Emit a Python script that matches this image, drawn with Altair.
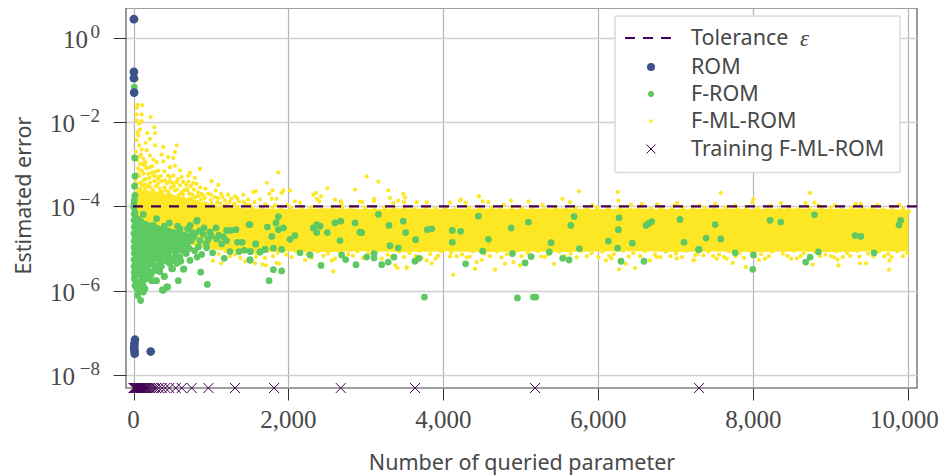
import altair as alt
import pandas as pd

# x = number of queried parameter, e = log10(estimated error)
rom_pts = [(5,0.44),(5,-0.81),(5,-0.96),(8,-1.30),(19,-7.16),(12,-7.25),(10,-7.32),(8,-7.37),(13,-7.43),(15,-7.49),(222,-7.44)]

from_isolated = [(10,-1.17),(14,-2.85),(18,-3.28),(14,-3.52),(18,-3.74),(9,-3.85),(5,-3.95),
    (815,-4.35),(708,-4.53),(910,-4.51),(987,-4.61),(1064,-4.51),(1202,-4.57),(1254,-4.57),(1322,-4.55),(1490,-4.43),(794,-4.65),(858,-4.81),(966,-4.77),(1073,-4.77),(1138,-4.89),(1202,-4.81),(1340,-4.85),(1404,-4.85),(1576,-4.89),(750,-4.81),(837,-4.96),(880,-5.14),(944,-4.98),(1021,-5.10),(1172,-5.23),(1245,-5.07),(1361,-5.07),(1430,-5.04),(1512,-5.07),(1632,-5.08),(1697,-5.02),(1503,-5.27),(729,-5.28),(643,-5.49),(867,-5.56),(953,-5.85),(578,-5.76),(385,-5.99),(441,-5.91),(505,-5.48),(398,-5.66),(278,-5.76),
    (823,-4.33),(698,-4.53),(600,-4.53),(660,-4.70),(620,-4.85),(690,-4.92),(640,-5.05),(600,-5.20),(651,-5.48),(760,-4.62),(680,-5.12),
    (730,-4.45),(780,-4.72),(850,-4.58),(900,-4.66),(940,-4.88),(1000,-4.70),(1100,-4.68),(1160,-4.72),(720,-5.00),(790,-5.05),(820,-5.20),(560,-5.35),(610,-5.30)]

from_blob = [(5,-4.02),(8,-4.18),(7,-4.33),(10,-4.49),(6,-4.64),(9,-4.82),(7,-4.97),(10,-5.11),(6,-5.26),(8,-5.42),(10,-5.56),(10,-5.72),
    (19,-4.14),(34,-4.27),(26,-4.44),(37,-4.60),(22,-4.76),(36,-4.93),(25,-5.07),(38,-5.23),(24,-5.36),(35,-5.52),(19,-5.65),(19,-5.88),(36,-5.79),
    (53,-6.11),(92,-6.23),(127,-6.03),(84,-5.91),(148,-5.95),(105,-5.76),(60,-5.98),(234,-5.76),(298,-5.76),(372,-5.98),(428,-5.91),(397,-5.66),(277,-5.52),(492,-5.48),(470,-5.36),
    (127,-4.19),(62,-4.31),(75,-4.48),(58,-4.66),(79,-4.81),(62,-4.99),(70,-5.15),(56,-5.31),(81,-5.44),(66,-5.61),
    (98,-4.36),(118,-4.54),(95,-4.70),(112,-4.86),(96,-5.03),(120,-5.18),(101,-5.34),(115,-5.50),(90,-5.62),(135,-5.66),
    (151,-4.42),(140,-4.63),(165,-4.78),(148,-4.94),(168,-5.10),(142,-5.26),(160,-5.41),(172,-5.60),
    (190,-4.58),(205,-4.74),(186,-4.88),(210,-5.05),(192,-5.21),(206,-5.37),(196,-5.52),
    (256,-4.45),(298,-4.29),(245,-4.62),(268,-4.79),(238,-4.96),(262,-5.12),(244,-5.28),(272,-5.41),(228,-5.60),
    (322,-4.55),(340,-4.70),(310,-4.86),(345,-5.02),(318,-5.17),(338,-5.31),(312,-5.45),
    (397,-4.47),(380,-4.66),(405,-4.82),(384,-4.98),(410,-5.14),(388,-5.28),
    (462,-4.39),(448,-4.58),(470,-4.74),(440,-4.90),(476,-5.04),(452,-5.19),
    (569,-4.47),(510,-4.62),(545,-4.78),(520,-4.95),(552,-5.10),(515,-5.28),(575,-4.92),
    (590,-5.02),(530,-5.20),(360,-5.42),(340,-5.55),(445,-5.32),(160,-5.72),(200,-5.66),(120,-5.85),(70,-6.02),(45,-5.95)]

from_far = [(1504,-4.43),(1728,-4.49),(1870,-4.24),(1839,-4.39),(1870,-4.55),(1934,-4.51),(1784,-4.71),(1577,-4.89),(1504,-5.07),(1633,-5.08),(1698,-5.02),(1805,-4.99),(1912,-5.02),(2020,-4.78),(2084,-4.69),(2149,-5.10),(2278,-5.15),(2321,-4.51),(2364,-4.62),(2364,-4.43),(2407,-4.47),(2502,-4.62),(2600,-4.39),(2674,-4.35),(2665,-4.81),(2686,-5.15),(2738,-5.26),(2859,-4.39),(2923,-4.61),(2945,-4.62),(3009,-5.20),(3104,-5.12),(3104,-5.22),(3160,-4.19),(3203,-5.38),(3288,-5.32),(3297,-4.45),(3310,-4.93),(3362,-5.20),(3417,-4.98),(3482,-4.35),(3512,-4.62),(3641,-4.79),(3632,-5.30),(3684,-5.23),(3792,-4.55),(3848,-4.53),(4114,-4.57),(4114,-4.85),(4222,-4.59),(4286,-5.36),(4450,-4.23),(1504,-5.27),(1805,-5.50),(1912,-5.53),(1749,-5.76),(2420,-5.40),(2871,-5.38),
    (3755,-6.15),(4581,-4.78),(4507,-5.06),(4873,-4.51),(4890,-5.12),(4955,-6.17),(5054,-5.34),(5131,-5.19),(5097,-4.37),(5161,-6.15),(5191,-6.15),(5389,-4.86),(5367,-5.08),(5539,-5.23),(5621,-5.27),(5643,-4.45),(5686,-4.24),(5754,-5.00),(6129,-4.82),(6249,-4.99),(6258,-4.55),(6266,-4.27),(6292,-5.30),(6438,-4.87),(6589,-5.30),(6614,-4.45),(6645,-4.41),(6688,-4.36),(7053,-4.31),(7105,-4.85),(7290,-5.02),
    (7507,-4.43),(7390,-4.75),(7580,-4.77),(7300,-5.02),(7765,-5.10),(8001,-5.15),(7992,-5.49),(8216,-4.33),(8354,-4.37),(8788,-4.20),(8840,-5.08),(8732,-5.20),(8676,-5.32),(9313,-4.69),(9386,-4.71),(9558,-5.10),(9902,-4.33),(9880,-4.44)]

fml_fan = [(41,0.43),(45,-0.99),(53,-1.59),(114,-1.60),(40,-1.66),(105,-1.82),(40,-1.82),(221,-1.88),(40,-1.96),(105,-1.98),(71,-2.04),(268,-2.12),(84,-2.17),(53,-2.24),(178,-2.26),(277,-2.26),(62,-2.32),(212,-2.40),(40,-2.43),(157,-2.49),(71,-2.55),(277,-2.55),(385,-2.59),(556,-2.55),(105,-2.65),(170,-2.67),(535,-2.71),(363,-2.77),(449,-2.83),(514,-2.85),(212,-2.79),(256,-2.89),(298,-2.95),(385,-2.93),(127,-2.87),(84,-2.99),(148,-3.03),(212,-3.07),(471,-3.07),(535,-3.03),(858,-3.11),(600,-3.15),(320,-3.15),(397,-3.17),(105,-3.15),(191,-3.23),(256,-3.27),(449,-3.27),(514,-3.27),(729,-3.20),(707,-3.27),(621,-3.30),(793,-3.32),(1008,-3.40),(707,-3.41),(815,-3.46),(1094,-3.49),(406,-3.38),(127,-3.38),(212,-3.44),(320,-3.46),(492,-3.44),(600,-3.50),(685,-3.58),(84,-3.58),(148,-3.58),(256,-3.62),(363,-3.66),(449,-3.66),(535,-3.62),(879,-3.70),(965,-3.70),(1417,-3.72),(1309,-3.76),(1546,-3.66),(1051,-3.78),(1180,-3.86),(600,-3.82),(750,-3.82),
    (60,-3.10),(160,-3.35),(300,-3.30),(430,-3.45),(560,-3.42),(650,-3.62),(780,-3.60),(840,-3.75),(920,-3.80),(1000,-3.85),(1120,-3.92),(1240,-3.90),(1360,-3.88),(1450,-3.95),
    (30,-2.70),(95,-2.78),(150,-2.95),(240,-3.05),(280,-3.18),(350,-3.28),(470,-3.30),(55,-3.22),(110,-3.50),(190,-3.52),(270,-3.40),(400,-3.55),(520,-3.52),(620,-3.66),(720,-3.70),(800,-3.78),(30,-3.35),(60,-3.60),(170,-3.70),(300,-3.72),(430,-3.78),(560,-3.78),(680,-3.88),(840,-3.90),(950,-3.95)]

fml_dense = [(48,-2.90),(70,-2.82),(118,-3.00),(170,-3.10),(75,-3.28),(130,-3.22),(205,-3.32),(240,-3.20),(320,-3.35),(365,-3.40),(470,-3.40),(510,-3.45),(570,-3.36),(640,-3.42),(680,-3.48),(740,-3.52),(770,-3.45),(860,-3.55),(930,-3.58),(1060,-3.62),(1130,-3.70),(1220,-3.72),
    (45,-3.46),(90,-3.44),(150,-3.48),(220,-3.55),(290,-3.52),(340,-3.58),(410,-3.62),(480,-3.56),(560,-3.60),(640,-3.72),(700,-3.62),(760,-3.72),(830,-3.66),(900,-3.74),(1000,-3.72),(1090,-3.80),(1150,-3.78),(1260,-3.82),(1340,-3.80),(1480,-3.84),
    (40,-3.70),(100,-3.66),(130,-3.76),(210,-3.68),(245,-3.78),(330,-3.68),(380,-3.76),(470,-3.72),(510,-3.82),(590,-3.72),(650,-3.82),(720,-3.82),(790,-3.88),(870,-3.84),(920,-3.92),(1010,-3.94),(1080,-3.90),(1200,-3.96),(1300,-3.94),(1420,-3.90),
    (45,-3.84),(90,-3.80),(140,-3.88),(200,-3.82),(270,-3.88),(340,-3.84),(400,-3.90),(470,-3.88),(540,-3.92),(620,-3.90),(760,-3.94),(890,-3.98),(1060,-4.00),(1160,-3.99),(1340,-4.00),(1500,-3.97),(1560,-3.90),(1700,-3.95),(1830,-3.97),(1990,-3.96)]

fml_upper = [(1870,-3.19),(3009,-3.29),(3160,-3.41),(1719,-3.44),(1577,-3.64),(1753,-3.70),(1796,-3.62),(1934,-3.62),(1912,-3.68),(2020,-3.62),(2502,-3.57),(2859,-3.60),(3288,-3.62),(3482,-3.70),(2321,-3.72),(2355,-3.68),(2420,-3.76),(2364,-3.82),(2398,-3.88),(1633,-3.83),(1783,-3.82),(1848,-3.82),(2084,-3.88),(2149,-3.91),(2600,-3.84),(2674,-3.88),(2686,-3.94),(2923,-3.88),(2953,-3.90),(3104,-3.82),(3104,-3.87),(3310,-3.80),(3504,-3.79),(3353,-3.92),(3417,-3.86),(3491,-3.90),(3654,-3.90),(3783,-3.90),(4084,-3.91),(4222,-3.84),(4286,-3.91),(4454,-3.76),
    (4460,-3.76),(4215,-3.86),(4507,-3.88),(4581,-3.90),(4873,-3.86),(5097,-3.88),(5535,-3.82),(5750,-3.64),(6249,-3.66),(6258,-3.86),(5634,-3.90),(7580,-3.68),(8001,-3.83),(7988,-3.91),(8732,-3.68),(8354,-3.92),(8676,-3.92),(8788,-3.91),(7304,-3.98),(7507,-3.94),(7765,-3.98),(8216,-3.98),(9321,-3.94),(9386,-3.94),(9884,-3.96),(8840,-3.98),(6760,-3.95),(7020,-3.92),(6420,-3.96),(5920,-3.97),(5280,-3.96),(4780,-3.97),(6980,-3.98),(6560,-3.94),(9050,-3.97),(9600,-3.96)]

fml_lower = [(1697,-5.22),(1710,-5.40),(1667,-5.38),(1568,-5.35),(1848,-5.34),(1882,-5.36),(2214,-5.27),(2579,-5.54),(2558,-5.28),(2600,-5.24),(3203,-5.24),(3379,-5.40),(3409,-5.46),(3525,-5.44),(3719,-5.22),(3783,-5.28),(3848,-5.35),(3899,-5.24),(4127,-5.62),(4407,-5.48),(4428,-5.32),(4342,-5.19),(4084,-5.19),
    (3527,-5.46),(4409,-5.48),(4667,-5.50),(4495,-5.27),(4796,-5.36),(4903,-5.32),(4989,-5.40),(5260,-5.19),(5428,-5.36),(6098,-5.28),(6171,-5.23),(6266,-5.49),(6352,-5.36),(6473,-5.46),(7010,-5.23),(7225,-5.28),(6666,-5.28),(6752,-5.20),
    (7236,-5.27),(7249,-5.16),(7528,-5.24),(7734,-5.34),(7902,-5.44),(7881,-5.22),(8074,-5.27),(8152,-5.24),(8487,-5.24),(8560,-5.23),(8762,-5.38),(9042,-5.20),(9098,-5.40),(9085,-5.26),(9153,-5.20),(9377,-5.35),(9454,-5.35),(9751,-5.50),(9755,-5.28),(9785,-5.20),(9368,-5.19),(7356,-5.16),(7657,-5.24),
    (1024,-5.29),(1131,-5.35),(1245,-5.18),(1380,-5.22),(1440,-5.30)]

# rough outer rim of the band of F-ML-ROM dots
fml_rim_top = [(1040,-4.02),(1150,-4.06),(1280,-4.03),(1400,-4.07),(1530,-4.03),(1660,-4.06),(1790,-4.02),(1900,-4.07),(2040,-4.03),(2170,-4.06),(2290,-4.02),(2440,-4.07),(2560,-4.04),(2690,-4.02),(2810,-4.06),(2990,-4.03),(3110,-4.07),(3240,-4.02),(3370,-4.05),(3500,-4.03),(3630,-4.07),(3770,-4.02),(3900,-4.05),(4030,-4.03),(4150,-4.07),(4330,-4.02),(4470,-4.06),(4620,-4.03),(4740,-4.07),(4880,-4.02),(5010,-4.05),(5150,-4.03),(5300,-4.06),(5450,-4.02),(5580,-4.07),(5700,-4.03),(5850,-4.05),(5980,-4.02),(6120,-4.06),(6280,-4.03),(6400,-4.07),(6530,-4.02),(6680,-4.05),(6810,-4.03),(6950,-4.07),(7090,-4.02),(7220,-4.05),(7370,-4.03),(7490,-4.07),(7640,-4.02),(7790,-4.06),(7910,-4.03),(8060,-4.05),(8190,-4.02),(8330,-4.07),(8460,-4.03),(8590,-4.06),(8720,-4.02),(8880,-4.05),(9000,-4.03),(9140,-4.07),(9270,-4.02),(9410,-4.05),(9530,-4.03),(9670,-4.07),(9790,-4.03),(9930,-4.05),(10010,-4.12)]
fml_rim_low = [(1020,-5.08),(1100,-5.13),(1190,-5.05),(1310,-5.14),(1450,-5.06),(1590,-5.12),(1740,-5.05),(1860,-5.10),(1970,-5.14),(2100,-5.06),(2240,-5.13),(2380,-5.07),(2510,-5.12),(2640,-5.05),(2770,-5.13),(2890,-5.06),(3030,-5.11),(3150,-5.05),(3280,-5.14),(3430,-5.07),(3560,-5.11),(3700,-5.05),(3830,-5.13),(3970,-5.06),(4100,-5.10),(4240,-5.14),(4380,-5.06),(4530,-5.12),(4690,-5.07),(4820,-5.13),(4950,-5.05),(5090,-5.11),(5220,-5.06),(5350,-5.14),(5490,-5.07),(5640,-5.12),(5780,-5.05),(5910,-5.11),(6050,-5.07),(6200,-5.13),(6320,-5.05),(6450,-5.11),(6600,-5.06),(6730,-5.14),(6870,-5.07),(7000,-5.12),(7140,-5.05),(7280,-5.12),(7420,-5.07),(7560,-5.14),(7690,-5.06),(7820,-5.11),(7960,-5.05),(8100,-5.13),(8240,-5.07),(8380,-5.12),(8520,-5.05),(8650,-5.11),(8790,-5.07),(8930,-5.14),(9070,-5.06),(9210,-5.11),(9340,-5.05),(9480,-5.12),(9620,-5.07),(9740,-5.13),(9860,-5.06),(9990,-5.11)]
fml_rim_low2 = [(1580,-5.20),(1800,-5.18),(2040,-5.20),(2300,-5.22),(2450,-5.17),(2700,-5.20),(2830,-5.17),(2960,-5.22),(3090,-5.18),(3330,-5.19),(3490,-5.20),(3640,-5.18),(3930,-5.17),(4170,-5.18),(4300,-5.21),(4600,-5.18),(4750,-5.21),(5010,-5.18),(5140,-5.21),(5310,-5.20),(5560,-5.18),(5720,-5.21),(5850,-5.18),(6000,-5.20),(6140,-5.17),(6390,-5.19),(6540,-5.18),(6800,-5.20),(6930,-5.18),(7080,-5.20),(7480,-5.18),(7620,-5.20),(7770,-5.18),(8020,-5.19),(8200,-5.18),(8440,-5.17),(8610,-5.18),(8860,-5.18),(9000,-5.18),(9250,-5.17),(9550,-5.19),(9690,-5.18),(9930,-5.18)]

band_x   = [0, 100, 200, 300, 400, 500, 700, 900, 1100, 1300, 1500, 2000, 2500, 3000, 3500, 4000, 4500, 5000, 5500, 6000, 6500, 7000, 7500, 8000, 8500, 9000, 9500, 10000]
band_top = [-3.65,-3.60,-3.62,-3.65,-3.70,-3.72,-3.82,-3.92,-4.00,-4.03,-4.05,-4.06,-4.05,-4.06,-4.05,-4.06,-4.05,-4.06,-4.05,-4.06,-4.05,-4.06,-4.05,-4.06,-4.05,-4.06,-4.05,-4.08]
band_low = [-4.80,-4.80,-4.80,-4.80,-4.80,-4.85,-4.90,-4.98,-5.04,-5.07,-5.08,-5.07,-5.08,-5.06,-5.08,-5.07,-5.08,-5.07,-5.08,-5.07,-5.06,-5.08,-5.07,-5.08,-5.07,-5.08,-5.07,-5.07]

# saturated core of the F-ROM cloud near the origin
core_x   = [3, 60, 130, 250, 400, 530, 660, 760]
core_top = [-4.10,-4.25,-4.35,-4.40,-4.50,-4.55,-4.60,-4.65]
core_low = [-5.90,-5.65,-5.50,-5.35,-5.20,-5.10,-4.95,-4.80]

train_x = [0,8,16,24,32,40,48,56,64,72,80,90,100,110,120,132,145,160,175,190,210,235,262,290,325,365,410,462,545,622,751,966,1310,1814,2675,3634,5183,7300]
train_e = -8.305

tolerance = 1e-4
x_ticks = [0, 2000, 4000, 6000, 8000, 10000]
x_tick_text = ["0", "2,000", "4,000", "6,000", "8,000", "10,000"]
y_exponents = [0, -2, -4, -6, -8]
y_exp_text = ["0", "−2", "−4", "−6", "−8"]

legend_labels = ["Tolerance", "ROM", "F-ROM", "F-ML-ROM", "Training F-ML-ROM"]
VIRIDIS = {"tol": "#440154", "rom": "#3b528b", "from": "#5ec962", "fml": "#fde725"}
INK = "#484848"
SANS = "Noto Sans"
SERIF = "Liberation Serif"

def frame(*lists):
    rows = [p for l in lists for p in l]
    return pd.DataFrame({"x": [r[0] for r in rows], "err": [10.0 ** r[1] for r in rows]})

xs = alt.Scale(domain=[-97, 10112], nice=False, zero=False)
ys = alt.Scale(type="log", domain=[10 ** -8.305, 10 ** 0.705], nice=False)
x_axis = alt.Axis(
    values=x_ticks, labels=False, title="Number of queried parameter", grid=True,
    gridColor="#b4b4b4", gridWidth=1.2, domain=False, tickColor="#333333", tickSize=12, tickWidth=1,
    titleFont=SANS, titleFontSize=21.5, titleFontWeight="normal", titleColor=INK, titlePadding=52)
y_axis = alt.Axis(
    values=[10.0 ** e for e in y_exponents], labels=False, title="Estimated error", grid=True,
    gridColor="#d0d0d0", gridWidth=1.6, domain=False, tickColor="#333333", tickSize=13, tickWidth=1,
    titleFont=SANS, titleFontSize=21.5, titleFontWeight="normal", titleColor=INK, titlePadding=77, titleY=187)
X = alt.X("x:Q", scale=xs, axis=x_axis)
Y = alt.Y("err:Q", scale=ys, axis=y_axis)

def band(xv, top, low, color):
    df = pd.DataFrame({"x": xv, "top": [10.0 ** v for v in top], "low": [10.0 ** v for v in low]})
    return alt.Chart(df).mark_area(color=color, opacity=1).encode(
        x=X, y=alt.Y("top:Q", scale=ys, axis=y_axis), y2="low:Q")

base = band(band_x, band_top, band_low, VIRIDIS["fml"])
core = band(core_x, core_top, core_low, VIRIDIS["from"])

fml = alt.Chart(frame(fml_fan, fml_dense, fml_upper, fml_lower, fml_rim_top, fml_rim_low, fml_rim_low2)).mark_circle(
    color=VIRIDIS["fml"], opacity=1, size=18).encode(x=X, y=Y)
from_ = alt.Chart(frame(from_isolated, from_blob, from_far)).mark_circle(
    color=VIRIDIS["from"], opacity=1, size=46).encode(x=X, y=Y)
rom = alt.Chart(frame(rom_pts)).mark_circle(
    color=VIRIDIS["rom"], opacity=1, size=76).encode(x=X, y=Y)
CROSS = "M-1,-1L1,1M-1,1L1,-1"
train_df = pd.DataFrame({"x": train_x, "err": [10.0 ** train_e] * len(train_x)})
train = alt.Chart(train_df).mark_point(
    shape=CROSS, filled=False, color=VIRIDIS["tol"], opacity=1, size=100, strokeWidth=1, clip=False).encode(x=X, y=Y)
tol = alt.Chart(pd.DataFrame({"err": [tolerance]})).mark_rule(
    color=VIRIDIS["tol"], strokeWidth=2.2, strokeDash=[10, 8]).encode(y=Y)

tick_df = pd.DataFrame({"err": [10.0 ** e for e in y_exponents], "exp": y_exp_text,
                        "base": ["10"] * 5, "neg": [e < 0 for e in y_exponents]})
def ytext(df, col, px, size, dy):
    return alt.Chart(df).mark_text(font=SERIF, fontSize=size, color=INK, align="right", baseline="middle", dy=dy).encode(
        x=alt.value(px), y=Y, text=f"{col}:N")
tick_neg = tick_df[tick_df.neg]
tick_zero = tick_df[~tick_df.neg]
ylabels = [ytext(tick_neg, "base", -51, 25, 2), ytext(tick_zero, "base", -38, 25, 2), ytext(tick_df, "exp", -26, 19, -6)]

xtick_df = pd.DataFrame({"x": x_ticks, "t": x_tick_text})
def xtext(df, dx):
    return alt.Chart(df).mark_text(font=SERIF, fontSize=25, color=INK, align="center", baseline="middle", dx=dx).encode(
        x=X, y=alt.value(412), text="t:N")
xlabels = [xtext(xtick_df[xtick_df.x < 10000], 0), xtext(xtick_df[xtick_df.x == 10000], -4)]

# legend
lx0, lx1, ly0, ly1 = 489, 774, 8, 164.5
rows_y = [30, 59, 86, 113, 141]
one = pd.DataFrame({"a": [0]})
leg_box = alt.Chart(one).mark_rect(fill="white", stroke="#dcdcdc", strokeWidth=1.5, cornerRadius=2).encode(
    x=alt.value(lx0), x2=alt.value(lx1), y=alt.value(ly0), y2=alt.value(ly1))
leg_line = alt.Chart(one).mark_rule(color=VIRIDIS["tol"], strokeWidth=2.2, strokeDash=[10, 8]).encode(
    x=alt.value(499), x2=alt.value(546), y=alt.value(rows_y[0]))
def leg_pt(row, color, size):
    return alt.Chart(one).mark_circle(color=color, opacity=1, size=size).encode(
        x=alt.value(525), y=alt.value(rows_y[row]))
leg_cross = alt.Chart(one).mark_point(shape=CROSS, filled=False, color=VIRIDIS["tol"], opacity=1, size=81, strokeWidth=1).encode(
    x=alt.value(525), y=alt.value(rows_y[4]))
leg_text = [alt.Chart(pd.DataFrame({"t": [t]})).mark_text(font=SANS, fontSize=21.5, color=INK, align="left", baseline="middle", dy=1).encode(
    x=alt.value(565), y=alt.value(rows_y[i]), text="t:N") for i, t in enumerate(legend_labels)]
leg_eps = alt.Chart(pd.DataFrame({"t": ["ε"]})).mark_text(font=SERIF, fontSize=23, fontStyle="italic", color=INK, align="left", baseline="middle", dy=1).encode(
    x=alt.value(674), y=alt.value(rows_y[0]), text="t:N")

chart = alt.layer(
    base, fml, core, from_, rom, tol, train, *ylabels, *xlabels,
    leg_box, leg_line, leg_pt(1, VIRIDIS["rom"], 64), leg_pt(2, VIRIDIS["from"], 36), leg_pt(3, VIRIDIS["fml"], 14), leg_cross, *leg_text, leg_eps,
).properties(
    width=791, height=380,
    autosize=alt.AutoSizeParams(type="none"),
    padding={"left": 118, "top": 0, "right": 22, "bottom": 92},
).configure_view(stroke="#808080", strokeWidth=1.6)

chart.save("out.html", embed_options={"renderer": "svg", "actions": False})
